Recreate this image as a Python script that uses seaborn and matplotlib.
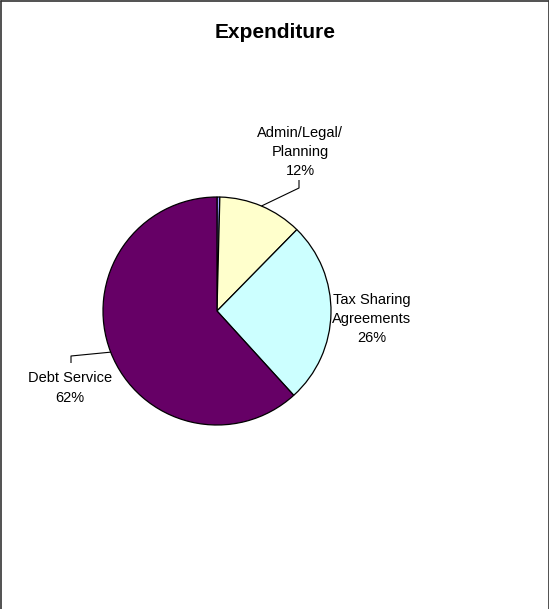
import numpy as np
import matplotlib
matplotlib.use("Agg")
import matplotlib.pyplot as plt
import seaborn as sns

# Expenditure shares (percent), clockwise from 12 o'clock
categories = ["Other", "Admin/Legal/\nPlanning", "Tax Sharing\nAgreements", "Debt Service"]
shares = [0.4, 12, 26, 62]
show_label = [False, True, True, True]
colors = ["#9999FF", "#FFFFCC", "#CCFFFF", "#660066"]

sns.set_theme(style="white")
plt.rcParams["font.family"] = ["Liberation Sans", "DejaVu Sans"]

W, H, DPI = 549, 609, 100
fig = plt.figure(figsize=(W / DPI, H / DPI), dpi=DPI)
ax = fig.add_axes([0, 0, 1, 1])

# pie geometry in pixels: centre and radius
cx, cy, R = 217, 311, 114

def to_data(px, py):
    return (px - cx) / R, (cy - py) / R

wedges, _ = ax.pie(shares, colors=colors, startangle=90, counterclock=False,
                   radius=1, center=(0, 0), normalize=True,
                   wedgeprops=dict(edgecolor="black", linewidth=0.9))

ax.set_xlim(-cx / R, (W - cx) / R)
ax.set_ylim(-(H - cy) / R, cy / R)
ax.set_aspect("equal")
ax.axis("off")

total = sum(shares)
cum = np.cumsum([0] + shares[:-1])
mids = [(c + s / 2) / total * 360 for c, s in zip(cum, shares)]  # clockwise from top

label_px = {1: (300, 152), 2: (372, 319), 3: (70, 388)}
leader_px = {1: [(299, 188), (299, 180)], 3: [(71, 356), (71, 363)]}

for i, (name, val, m) in enumerate(zip(categories, shares, mids)):
    if not show_label[i]:
        continue
    lx, ly = to_data(*label_px[i])
    ax.text(lx, ly, f"{name}\n{val:.0f}%", ha="center", va="center",
            fontsize=10.5, linespacing=1.47, color="black")
    if i in leader_px:
        ang = np.deg2rad(m)
        ex, ey = np.sin(ang), np.cos(ang)
        pts = [(ex, ey)] + [to_data(*p) for p in leader_px[i]]
        xs, ys = zip(*pts)
        ax.plot(xs, ys, color="black", linewidth=0.8, solid_capstyle="butt")

fig.text(275 / W, 1 - 33 / H, "Expenditure", ha="center", va="center",
         fontsize=15, fontweight="bold", color="black")

# chart area frame (top, left, right)
frame = dict(color="#333333", linewidth=1.2, transform=fig.transFigure)
fig.add_artist(plt.Line2D([0.5 / W, 0.5 / W], [0, 1 - 0.5 / H], **frame))
fig.add_artist(plt.Line2D([0.5 / W, 1 - 0.5 / W], [1 - 0.5 / H, 1 - 0.5 / H], **frame))
fig.add_artist(plt.Line2D([1 - 0.5 / W, 1 - 0.5 / W], [0, 1 - 0.5 / H], **frame))

fig.savefig("out.png", dpi=DPI, facecolor="white")
